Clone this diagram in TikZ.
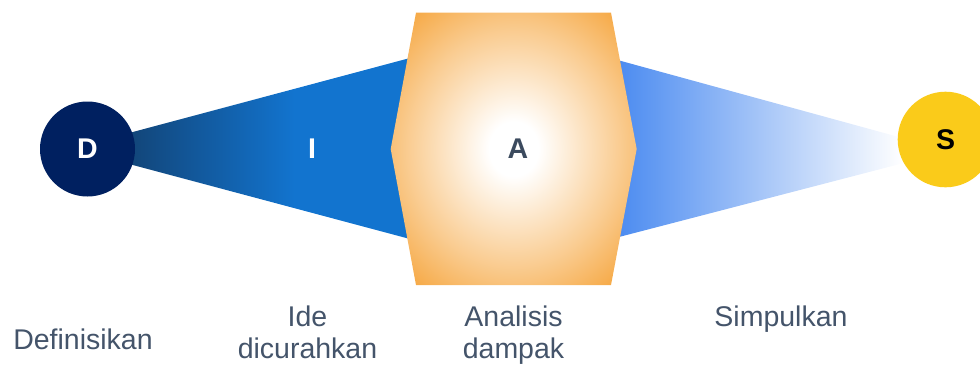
\documentclass[tikz,border=0pt]{standalone}
\usepackage{fontspec}
\setmainfont{Liberation Sans}
\definecolor{navy}{RGB}{0,32,96}
\definecolor{sunyellow}{RGB}{250,203,26}
\definecolor{labelgray}{RGB}{68,84,106}
\definecolor{agray}{RGB}{59,74,94}
\definecolor{darkfan}{RGB}{18,70,122}
\definecolor{midfan}{RGB}{18,116,207}
\definecolor{lightfan}{RGB}{72,137,240}
\definecolor{hexorange}{RGB}{245,160,50}
\colorlet{hexmid}{hexorange!55}
\pgfdeclarehorizontalshading{leftfan}{100bp}{color(0bp)=(darkfan); color(34bp)=(darkfan); color(58bp)=(midfan); color(100bp)=(midfan)}
\pgfdeclarehorizontalshading{rightfan}{100bp}{color(0bp)=(lightfan); color(25bp)=(lightfan); color(68bp)=(white); color(100bp)=(white)}
\pgfdeclareradialshading{hexglow}{\pgfpoint{0bp}{0bp}}{color(0bp)=(white); color(5bp)=(white); color(22bp)=(hexmid); color(35bp)=(hexorange); color(50bp)=(hexorange)}

\begin{document}
\begin{tikzpicture}[x=1pt,y=-1pt,
	letter/.style={circle,inner sep=0pt,font=\fontsize{28.5}{32}\selectfont\bfseries},
	caption/.style={inner sep=0pt,align=center,text=labelgray,font=\fontsize{28.5}{32}\selectfont}]
	\useasboundingbox (0,0) rectangle (980,365);
	
	%fans
	\shade[shading=leftfan] (71,148.5) -- (410,58) -- (410,239) -- cycle;		%D to A
	\shade[shading=rightfan] (612,58.5) -- (950,151) -- (612,238.8) -- cycle;	%A to S
	
	%end circles
	\node[letter,fill=navy,text=white,minimum size=95pt] (d) at (87.5,149) {D};
	\node[letter,fill=sunyellow,text=black,minimum size=95.6pt] (s) at (945.5,139.5) {S};
	
	%hexagon
	\shade[shading=hexglow] (390.7,149) -- (416,12.7) -- (611,12.7) -- (636.7,149) -- (611,285) -- (416,285) -- cycle;
	\node[letter,text=agray] (a) at (518,149) {A};
	\node[letter,text=white] (i) at (312,149) {I};
	
	%labels
	\node[caption,anchor=base] (def) at (83,349) {Definisikan};
	\node[caption,anchor=north] (ide) at (307.5,305.3) {Ide\\dicurahkan};
	\node[caption,anchor=north] (ana) at (513.5,305.3) {Analisis\\dampak};
	\node[caption,anchor=base] (sim) at (781,326) {Simpulkan};
\end{tikzpicture}
\end{document}
